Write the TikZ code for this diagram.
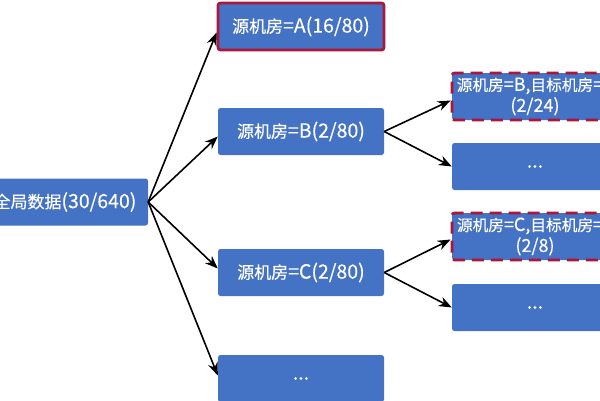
\documentclass[tikz,border=0pt]{standalone}
\usepackage{fontspec}
\setmainfont{Noto Sans CJK SC}[FakeBold=0.3]
\newfontfamily\zhfont{Noto Sans CJK SC}[Scale=0.87,FakeBold=0.3]
\newcommand\zh[1]{{\zhfont #1}}
\usetikzlibrary{arrows.meta,positioning}
\definecolor{boxblue}{RGB}{68,114,196}
\definecolor{boxred}{RGB}{172,22,56}

\begin{document}
\begin{tikzpicture}[x=1pt,y=-1pt,
  box/.style={fill=boxblue, rounded corners=2.5pt, minimum width=166pt, minimum height=47pt,
    inner sep=0pt, text=white, font=\fontsize{19.5}{22}\selectfont},
  redbox/.style={box, draw=boxred, line width=2.8pt},
  dashbox/.style={redbox, dash pattern=on 12pt off 7pt, align=center,
    font=\fontsize{18}{21}\selectfont},
  arr/.style={-{Stealth[length=13pt,width=10pt]}, line width=1.6pt}]
  \useasboundingbox (0,0) rectangle (600,400);

  \node[box] (all) at (65,202) {\zh{全局数据}(30/640)};

  \node[redbox] (srcA) at (301,26.5) {\zh{源机房}=A(16/80)};
  \node[box] (srcB) at (301,131.5) {\zh{源机房}=B(2/80)};
  \node[box] (srcC) at (301,272.5) {\zh{源机房}=C(2/80)};
  \node[box] (srcX) at (301,378.5) {...};

  \node[dashbox] (dstB) at (535,96.5) {\zh{源机房}=B,\zh{目标机房}=\hspace*{10pt}\\(2/24)};
  \node[box] (dstBX) at (535,166.5) {...};
  \node[dashbox] (dstC) at (535,236.5) {\zh{源机房}=C,\zh{目标机房}=\hspace*{10pt}\\(2/8)};
  \node[box] (dstCX) at (535,307.5) {...};

  \draw[arr] (all.east) -- ([yshift=-6pt]srcA.west);
  \draw[arr] (all.east) -- ([yshift=-5pt]srcB.west);
  \draw[arr] (all.east) -- ([yshift=4pt]srcC.west);
  \draw[arr] (all.east) -- ([yshift=3pt]srcX.west);

  \draw[arr] (srcB.east) -- ([yshift=-4pt]dstB.west);
  \draw[arr] (srcB.east) -- (dstBX.west);
  \draw[arr] (srcC.east) -- ([yshift=-3pt]dstC.west);
  \draw[arr] (srcC.east) -- (dstCX.west);
\end{tikzpicture}
\end{document}
